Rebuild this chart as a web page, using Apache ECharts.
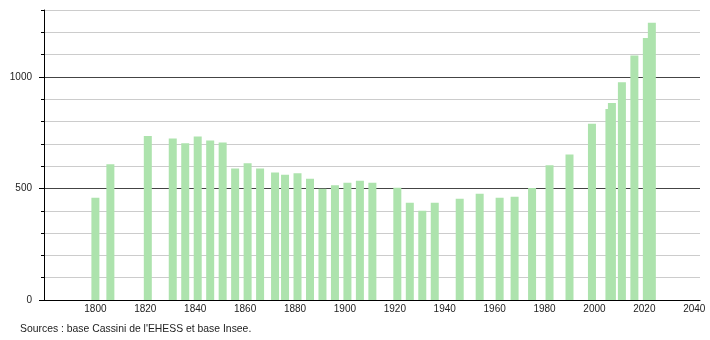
<!DOCTYPE html>
<html>
<head>
<meta charset="utf-8">
<script src="https://cdn.jsdelivr.net/npm/echarts@6/dist/echarts.min.js"></script>
<style>
html,body{margin:0;padding:0;background:#fff;}
#chart{width:710px;height:340px;}
</style>
</head>
<body>
<div id="chart"></div>
<script>
const years = [1800, 1806, 1821, 1831, 1836, 1841, 1846, 1851, 1856, 1861, 1866, 1872, 1876, 1881, 1886, 1891, 1896, 1901, 1906, 1911, 1921, 1926, 1931, 1936, 1946, 1954, 1962, 1968, 1975, 1982, 1990, 1999, 2006, 2007, 2011, 2016, 2021, 2023];
const population = [458, 608, 735, 724, 703, 733, 715, 706, 589, 613, 589, 571, 562, 568, 544, 499, 514, 526, 535, 526, 503, 436, 400, 436, 454, 476, 458, 463, 502, 604, 652, 790, 856, 883, 976, 1096, 1174, 1243];
const xTickLabels = [1800, 1820, 1840, 1860, 1880, 1900, 1920, 1940, 1960, 1980, 2000, 2020, 2040];
const yTickLabels = [0, 500, 1000];
const sourceText = "Sources : base Cassini de l'EHESS et base Insee.";

const chart = echarts.init(document.getElementById('chart'), null, {renderer: 'canvas'});
const font = 'Liberation Sans, Arial, sans-serif';
chart.setOption({
  animation: false,
  grid: {left: 44, right: 10, top: 10, bottom: 40, containLabel: false},
  xAxis: {
    type: 'value', min: 1779.4, max: 2042.3,
    splitLine: {show: false},
    axisLine: {show: true, lineStyle: {color: '#000', width: 1}},
    axisTick: {show: false},
    axisLabel: {customValues: xTickLabels, formatter: v => String(v), color: '#222', fontSize: 10, fontFamily: font, margin: 4}
  },
  yAxis: [{
    type: 'value', min: 0, max: 1300, interval: 100,
    axisLine: {show: true, lineStyle: {color: '#000', width: 1}},
    axisTick: {show: true, length: 3, lineStyle: {color: '#000'}},
    axisLabel: {show: false},
    splitLine: {show: true, lineStyle: {color: ['#444', '#ccc', '#ccc', '#ccc', '#ccc'], width: 1}}
  }, {
    type: 'value', min: 0, max: 1300, position: 'left',
    axisLine: {show: false},
    axisTick: {show: true, customValues: yTickLabels, length: 5, lineStyle: {color: '#000'}},
    axisLabel: {customValues: yTickLabels, formatter: v => String(v), color: '#222', fontSize: 10, fontFamily: font, margin: 12},
    splitLine: {show: false}
  }],
  series: [{
    type: 'bar',
    barWidth: 8,
    itemStyle: {color: '#ade3ad'},
    data: years.map((y, i) => [y, population[i]])
  }],
  graphic: [{
    type: 'text', left: 20, top: 324,
    style: {text: sourceText, fill: '#222', fontSize: 10.4, fontFamily: font}
  }]
});
</script>
</body>
</html>
